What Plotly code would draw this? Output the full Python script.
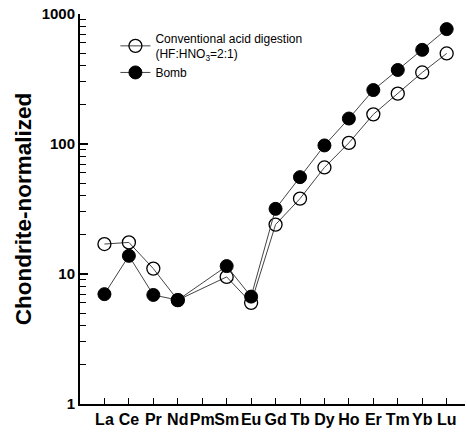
import plotly.graph_objects as go

elements = ["La", "Ce", "Pr", "Nd", "Pm", "Sm", "Eu", "Gd", "Tb", "Dy", "Ho", "Er", "Tm", "Yb", "Lu"]
positions = list(range(1, 16))
conventional = [17.0, 17.5, 11.0, 6.3, None, 9.5, 6.0, 24.0, 38.0, 66.0, 102, 169, 244, 355, 497]
bomb = [7.0, 13.8, 6.9, 6.3, None, 11.5, 6.7, 31.7, 55.6, 97.5, 157, 260, 371, 530, 765]

fig = go.Figure()
fig.add_trace(go.Scatter(
    x=positions, y=conventional, mode="lines+markers", connectgaps=True,
    name="Conventional acid digestion<br>(HF:HNO<sub>3</sub>=2:1)",
    line=dict(color="#444444", width=1),
    marker=dict(symbol="circle-open", size=13, color="black", line=dict(width=1.3, color="black")),
))
fig.add_trace(go.Scatter(
    x=positions, y=bomb, mode="lines+markers", connectgaps=True,
    name="Bomb",
    line=dict(color="#444444", width=1),
    marker=dict(symbol="circle", size=13, color="black", line=dict(width=1, color="black")),
))

fig.update_layout(
    width=467, height=433,
    margin=dict(l=80, r=2, t=14, b=29),
    paper_bgcolor="white", plot_bgcolor="white",
    font=dict(family="Liberation Sans, Arial, sans-serif", color="black"),
    legend=dict(x=0.092, y=0.975, xanchor="left", yanchor="top",
                bgcolor="rgba(0,0,0,0)", font=dict(size=12)),
)
fig.update_xaxes(
    range=[0, 15.75], tickvals=positions, ticktext=elements, tickangle=0, automargin=False,
    ticklabeloverflow="allow",
    showgrid=False, zeroline=False, showline=True, linecolor="black", linewidth=2,
    ticks="inside", ticklen=6, tickwidth=1.2, tickcolor="black",
    tickfont=dict(size=16, family="Liberation Sans, Arial, sans-serif", weight="bold"),
)
fig.update_yaxes(
    type="log", range=[0, 3], tickvals=[1, 10, 100, 1000], ticktext=["1", "10", "100", "1000"],
    automargin=False, ticklabeloverflow="allow",
    showgrid=False, zeroline=False, showline=True, linecolor="black", linewidth=2,
    ticks="inside", ticklen=8, tickwidth=1.5, tickcolor="black",
    minor=dict(ticks="inside", ticklen=6, tickwidth=1.2, tickcolor="black", dtick="D1", showgrid=False),
    tickfont=dict(size=15, family="Liberation Sans, Arial, sans-serif", weight="bold"),
    title=dict(text="Chondrite-normalized", font=dict(size=22.5, weight="bold"), standoff=4),
)

fig.write_html("out.html", config={"displayModeBar": False},
               post_script="document.body.style.margin='0';")
